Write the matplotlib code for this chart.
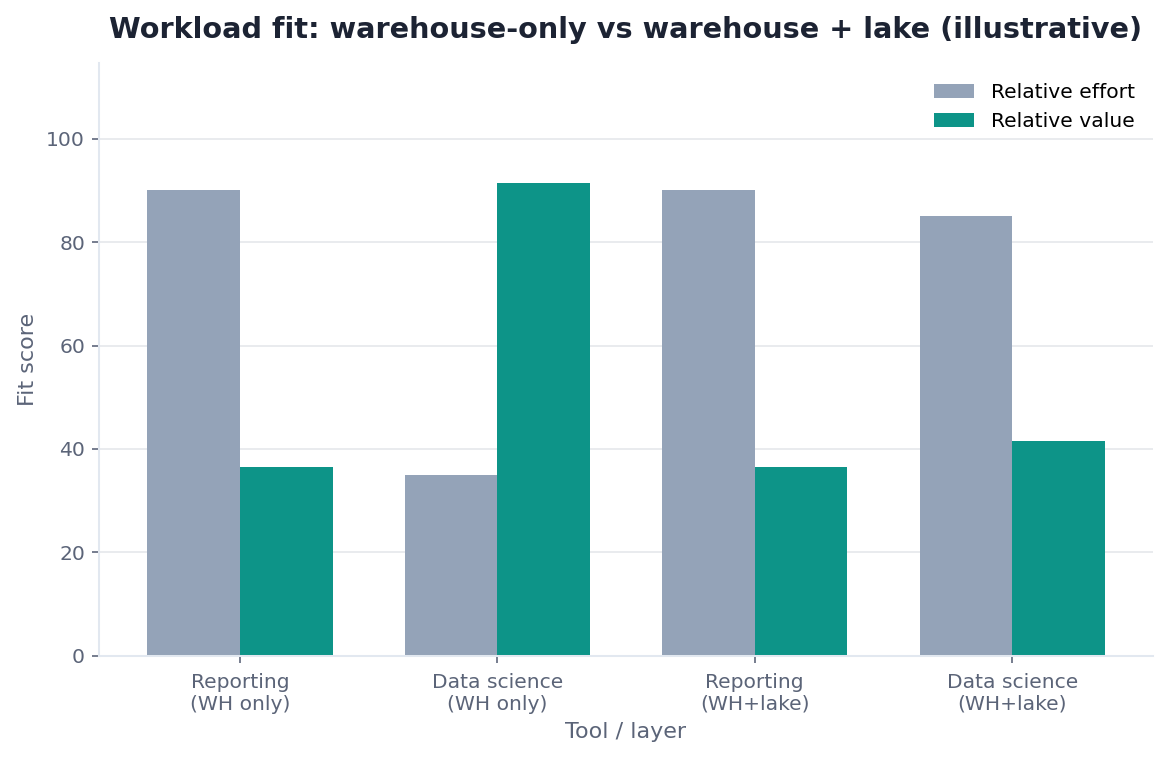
import numpy as np
import matplotlib.pyplot as plt

# Data
categories = ['Reporting\n(WH only)', 'Data science\n(WH only)', 'Reporting\n(WH+lake)', 'Data science\n(WH+lake)']
effort = [90, 35, 90, 85]
value = [36.5, 91.5, 36.5, 41.5]

text_gray = '#5b6478'
edge_gray = '#e2e8f0'

fig, ax = plt.subplots(figsize=(8, 757 / 146), dpi=146)
x = np.arange(len(categories))
w = 0.36
ax.bar(x - w / 2, effort, w, color='#94a3b8', label='Relative effort', zorder=2)
ax.bar(x + w / 2, value, w, color='#0d9488', label='Relative value', zorder=2)

ax.set_xticks(x)
ax.set_xticklabels(categories)
ax.set_ylim(0, 114.7)
ax.set_yticks([0, 20, 40, 60, 80, 100])
ax.yaxis.grid(True, color='#e5e7eb', linewidth=0.8, zorder=0)
ax.set_axisbelow(True)

for s in ['top', 'right']:
    ax.spines[s].set_visible(False)
for s in ['left', 'bottom']:
    ax.spines[s].set_color(edge_gray)
    ax.spines[s].set_linewidth(1.0)
ax.tick_params(colors=text_gray, labelsize=10)
ax.tick_params(axis='x', pad=5)

ax.set_xlabel('Tool / layer', fontsize=11, color=text_gray, labelpad=4)
ax.set_ylabel('Fit score', fontsize=11, color=text_gray)
ax.set_title('Workload fit: warehouse-only vs warehouse + lake (illustrative)',
             fontsize=14.2, fontweight='bold', color='#1c2333', pad=12)
ax.legend(frameon=False, fontsize=10, loc='upper right', bbox_to_anchor=(1.0, 0.997))

fig.subplots_adjust(left=0.085, right=0.987, top=0.917, bottom=0.134)
fig.savefig('out.png', dpi=146)
